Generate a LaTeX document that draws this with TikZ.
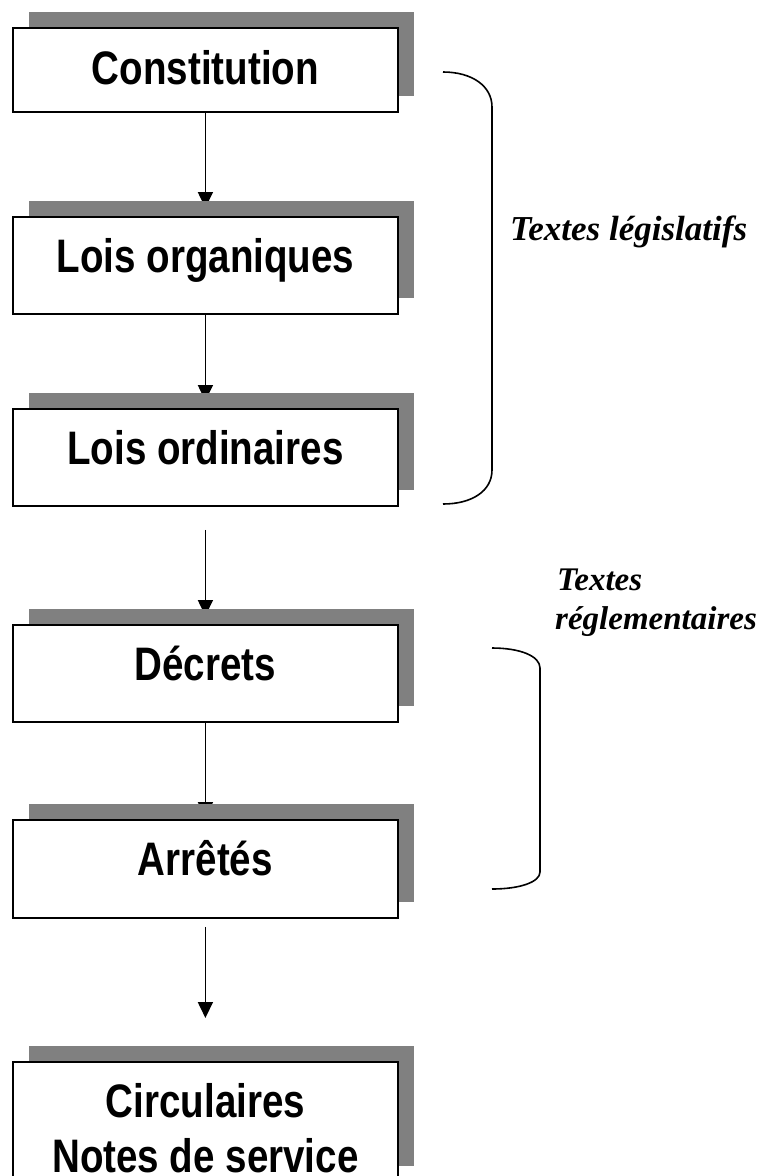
\documentclass[tikz,border=0pt]{standalone}
\usepackage{fontspec}
\setmainfont{Liberation Serif}
\newfontfamily\boxfont[FakeStretch=0.82]{Liberation Sans}
\usetikzlibrary{arrows.meta,shadows,backgrounds}
\definecolor{shadowgray}{HTML}{808080}
\tikzset{
  box/.style={draw, line width=1.8pt, fill=white, minimum width=385pt, inner sep=0pt,
    anchor=north west, general shadow={fill=shadowgray, shadow xshift=16pt, shadow yshift=16pt}},
  boxtext/.style={font=\boxfont\bfseries\fontsize{47}{56}\selectfont, inner sep=0pt, anchor=base},
  conn/.style={line width=1.7pt, -{Triangle[width=15pt,length=16pt]}},
  brace/.style={line width=1.6pt},
  lab/.style={font=\bfseries\itshape\fontsize{33}{38}\selectfont, inner sep=0pt, anchor=base west}
}
\begin{document}
\begin{tikzpicture}[x=1pt,y=-1pt]
\clip (0,0) rectangle (760,1176);
% boxes
\node[box, minimum height=84pt] (co) at (12,27) {};
\node[box, minimum height=97pt] (lg) at (12,216) {};
\node[box, minimum height=97pt] (lo) at (12,408) {};
\node[box, minimum height=97pt] (de) at (12,624) {};
\node[box, minimum height=98pt] (ar) at (12,819) {};
\node[box, minimum height=120pt] (ci) at (12,1061) {};
% texts
\node[boxtext] (tco) at ([yshift=-57pt]co.north) {Constitution};
\node[boxtext] (tlg) at ([yshift=-56pt]lg.north) {Lois organiques};
\node[boxtext] (tlo) at ([yshift=-56pt]lo.north) {Lois ordinaires};
\node[boxtext] (tde) at ([yshift=-56pt]de.north) {Décrets};
\node[boxtext] (tar) at ([yshift=-56pt]ar.north) {Arrêtés};
\node[boxtext] (tci1) at ([yshift=-56pt]ci.north) {Circulaires};
\node[boxtext] (tci2) at ([yshift=-111pt]ci.north) {Notes de service};
% connectors
\coordinate (e1) at ([yshift=8pt]lg.north);
\coordinate (e2) at ([yshift=7pt]lo.north);
\coordinate (s3) at ([yshift=-23pt]lo.south);
\coordinate (e3) at ([yshift=8pt]de.north);
\coordinate (e4) at ([yshift=1pt]ar.north);
\coordinate (s5) at ([yshift=-8pt]ar.south);
\coordinate (e5) at ([yshift=43pt]ci.north);
\begin{scope}[on background layer]
\fill[white] (0,0) rectangle (760,1176);
\draw[conn] (co.south) -- (e1);
\draw[conn] (lg.south) -- (e2);
\draw[conn] (s3) -- (e3);
\draw[conn] (de.south) -- (e4);
\end{scope}
\draw[conn] (s5) -- (e5);
% braces
\coordinate (b1t) at (443,72);
\coordinate (b1b) at (443,504);
\draw[brace] (b1t) .. controls (472,72) and (492,86) .. (492,107) -- (492,470)
  .. controls (492,491) and (472,504) .. (b1b);
\coordinate (b2t) at (492,648);
\coordinate (b2b) at (492,889);
\draw[brace] (b2t) .. controls (520,648) and (540,656) .. (540,668) -- (540,872)
  .. controls (540,882) and (520,889) .. (b2b);
% labels
\node[lab, font=\bfseries\itshape\fontsize{35}{40}\selectfont] (l1) at (510,240) {Textes législatifs};
\node[lab] (l2) at (557,590) {Textes};
\node[lab] (l3) at (555,629) {réglementaires};
\end{tikzpicture}
\end{document}
